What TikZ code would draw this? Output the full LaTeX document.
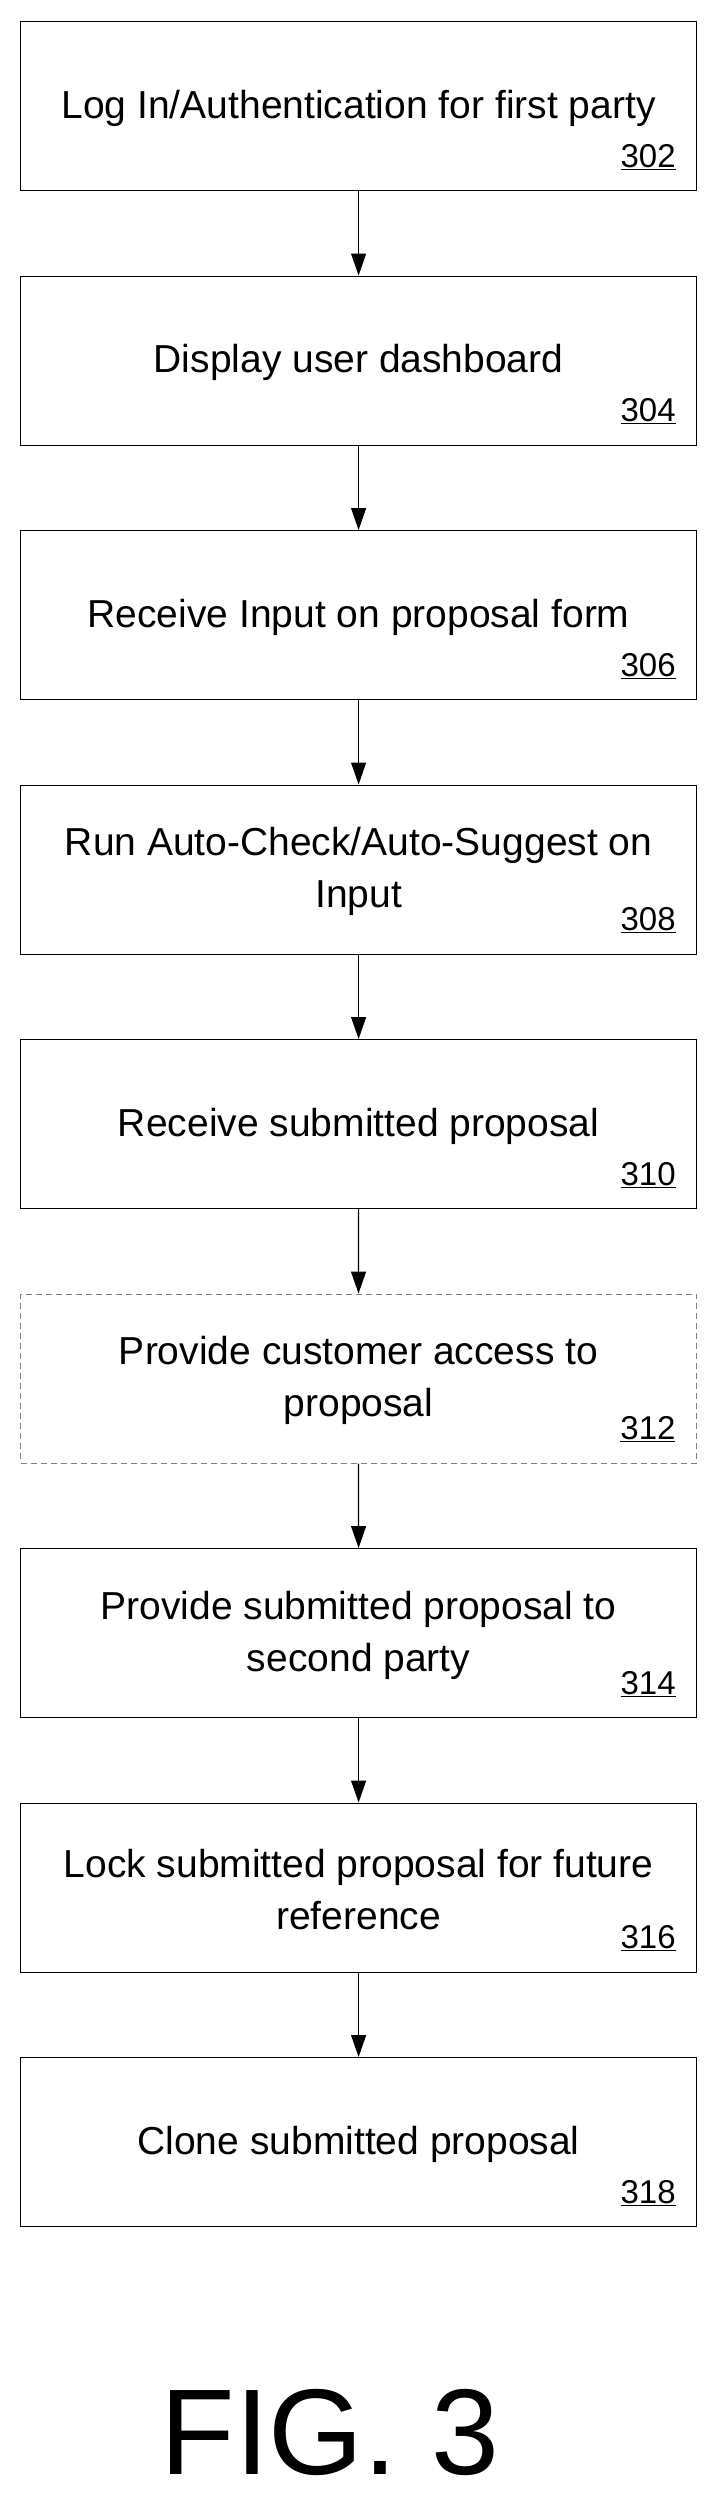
\documentclass[tikz,border=0pt]{standalone}
\usepackage{fontspec}
\setmainfont{Liberation Sans}
\usetikzlibrary{arrows.meta}
\begin{document}
\begin{tikzpicture}[x=1pt,y=-1pt,
  box/.style={draw=black,line width=1.2pt,minimum width=676pt,minimum height=169pt,inner sep=0pt,anchor=north west},
  dbox/.style={box,draw=gray,dash pattern=on 6pt off 4pt,line width=1pt},
  txt/.style={font=\fontsize{39}{52}\selectfont,align=center},
  num/.style={font=\fontsize{33}{35}\selectfont,anchor=south east},
  arr/.style={-{Triangle[length=22pt,width=15pt]},line width=1.2pt}]
\useasboundingbox (0,0) rectangle (717,2509);
\foreach \i/\t/\n/\s in {0/{Log In/Authentication for first party}/302/box,
  1/{Display user dashboard}/304/box,
  2/{Receive Input on proposal form}/306/box,
  3/{Run Auto-Check/Auto-Suggest on\\Input}/308/box,
  4/{Receive submitted proposal}/310/box,
  5/{Provide customer access to\\proposal}/312/dbox,
  6/{Provide submitted proposal to\\second party}/314/box,
  7/{Lock submitted proposal for future\\reference}/316/box,
  8/{Clone submitted proposal}/318/box}{
  \node[\s] (b\i) at (20,{21+254.5*\i}) {};
  \node[txt] (t\i) at ([yshift=-2pt]b\i.center) {\t};
  \node[num] (n\i) at ([xshift=-18pt,yshift=18pt]b\i.south east) {\underline{\n}};
}
\foreach \i [evaluate=\i as \j using int(\i+1)] in {0,...,7}{
  \draw[arr] (b\i.south) -- (b\j.north);
}
\node[font=\fontsize{122}{122}\selectfont] (fig) at (330,2432) {FIG. 3};
\end{tikzpicture}
\end{document}
